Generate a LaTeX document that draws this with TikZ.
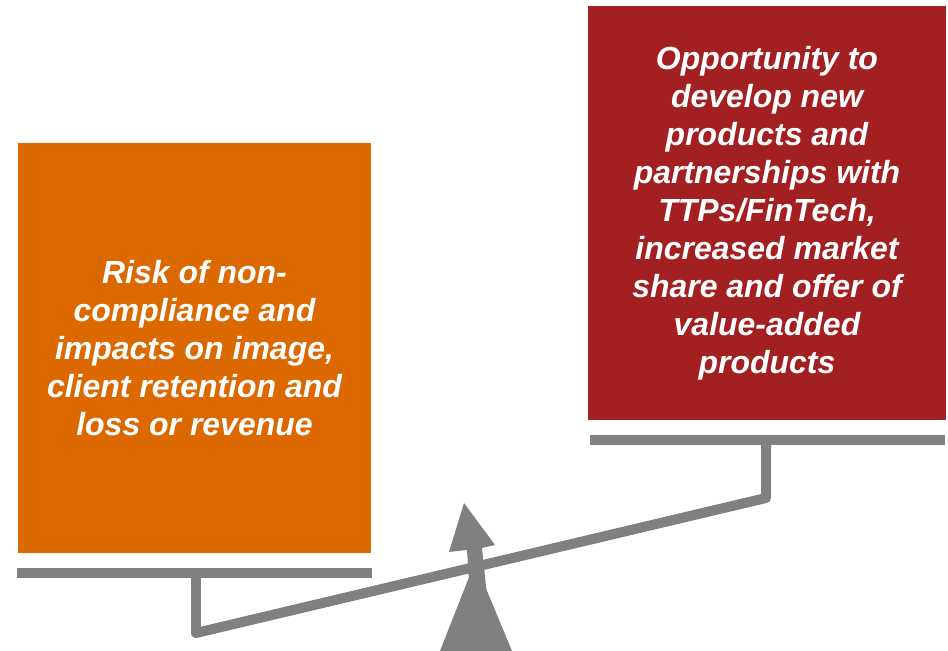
\documentclass[tikz,border=0pt]{standalone}
\usepackage{fontspec}
\setmainfont{Liberation Sans}
\definecolor{riskorange}{HTML}{DC6900}
\definecolor{gainred}{HTML}{A21F22}
\definecolor{beamgrey}{HTML}{808080}

\begin{document}
\begin{tikzpicture}[x=0.02cm,y=-0.02cm,
	weight/.style={inner sep=0pt, align=center, text=white,
		font=\fontsize{18.2}{21.6}\selectfont\bfseries\itshape},
	beam/.style={draw=beamgrey, line width=0.2cm, line join=round}]
		%%%%% START %%%%%
		\useasboundingbox (0,0) rectangle (948,651);
		
		\node[weight, fill=riskorange, minimum width=7.06cm, minimum height=8.2cm] (risk) at (194.5,348)
			{Risk of non-\\compliance and\\impacts on image,\\client retention and\\loss or revenue};
		\node[weight, fill=gainred, minimum width=7.16cm, minimum height=8.28cm] (gain) at (767,213)
			{Opportunity to\\develop new\\products and\\partnerships with\\TTPs/FinTech,\\increased market\\share and offer of\\value-added\\products};
		
		\fill[beamgrey] (17, 568) rectangle (372, 578);
		\fill[beamgrey] (590, 435) rectangle (945, 445);
		
		\coordinate (lefthang) at (196, 573);
		\coordinate (leftend) at (196, 633);
		\coordinate (rightend) at (766, 498);
		\coordinate (righthang) at (766, 440);
		\draw[beam] (lefthang) -- (leftend) -- (rightend) -- (righthang);
		
		\fill[beamgrey] (440, 651) -- (475, 562) -- (512, 651) -- cycle;
		\fill[beamgrey] (470, 596) -- (467, 550) -- (449, 552) -- (464, 503) -- (495, 545) -- (482, 548) -- (487, 596) -- cycle;
		%%%%% END %%%%%
	\end{tikzpicture}
\end{document}
